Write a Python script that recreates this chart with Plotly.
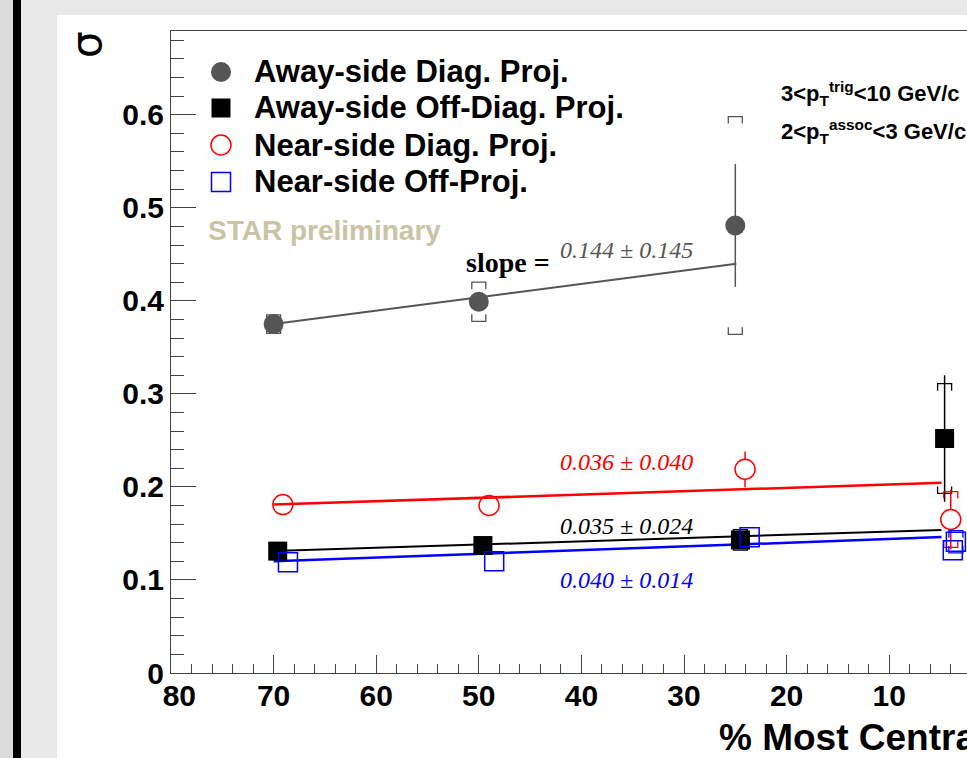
import plotly.graph_objects as go

# ---------------- data ----------------
# Away-side Diag. Proj. (grey filled circles)
away_diag_x = [70.0, 50.0, 25.0]
away_diag_y = [0.375, 0.399, 0.481]
away_diag_stat = [0.004, 0.006, 0.066]
away_diag_sys = [0.010, 0.021, 0.117]

# Away-side Off-Diag. Proj. (black filled squares)
away_off_x = [69.6, 49.6, 24.5, 4.6]
away_off_y = [0.131, 0.137, 0.143, 0.252]
away_off_stat = [0.004, 0.004, 0.005, 0.068]
away_off_sys = [0.004, 0.004, 0.011, 0.059]

# Near-side Diag. Proj. (red open circles)
near_diag_x = [69.1, 49.0, 24.05, 4.0]
near_diag_y = [0.181, 0.180, 0.219, 0.165]
near_diag_stat = [0.004, 0.004, 0.019, 0.032]
near_diag_sys = [0.0, 0.0, 0.0, 0.030]

# Near-side Off-Proj. (blue open squares)
near_off_x = [68.6, 48.5, 23.6, 3.5, 3.8]
near_off_y = [0.119, 0.120, 0.146, 0.141, 0.132]
near_off_stat = [0.003, 0.003, 0.004, 0.006, 0.006]
near_off_sys = [0.0, 0.0, 0.0, 0.012, 0.0]

# Linear fits: value at 70 %, slope (per 100 %), fit range
fit_away_diag = dict(y70=0.375, slope=0.144, err=0.145, xmin=24.9)
fit_away_off = dict(y70=0.131, slope=0.035, err=0.024, xmin=4.9)
fit_near_diag = dict(y70=0.181, slope=0.036, err=0.040, xmin=4.9)
fit_near_off = dict(y70=0.120, slope=0.040, err=0.014, xmin=4.9)

legend_labels = ["Away-side Diag. Proj.", "Away-side Off-Diag. Proj.",
                 "Near-side Diag. Proj.", "Near-side Off-Proj."]

x_tick_vals = [80, 70, 60, 50, 40, 30, 20, 10]
x_tick_text = ["\u200780", "70", "60", "50", "40", "30", "20", "10"]

# ---------------- geometry ----------------
W, H = 967, 758
L, R, T, B = 171, 0, 31, 85
PX_PER_X = 10.26
X_MAX = 80.0
X_MIN = X_MAX - (W - L - R) / PX_PER_X
Y_MAX = 0.69
PX_PER_Y = (H - T - B) / Y_MAX
MARK = 20


def pxx(p):
    return (p - L) / (W - L - R)


def pxy(p):
    return (H - B - p) / (H - T - B)


fig = go.Figure()

GREY = "#555555"
RED = "#ff0000"
BLUE = "#0000ff"
BLACK = "#000000"


def fit_line(f, color, width):
    xs = [70.0, f["xmin"]]
    ys = [f["y70"] + f["slope"] * (70.0 - x) / 100.0 for x in xs]
    fig.add_trace(go.Scatter(x=xs, y=ys, mode="lines", showlegend=False,
                             line=dict(color=color, width=width), hoverinfo="skip"))


def err_segments(xs, ys, errs, color, gap_px):
    gx, gy = [], []
    gap = gap_px / PX_PER_Y
    for x, y, e in zip(xs, ys, errs):
        if e > gap:
            gx += [x, x, None, x, x, None]
            gy += [y + gap, y + e, None, y - gap, y - e, None]
    if gx:
        fig.add_trace(go.Scatter(x=gx, y=gy, mode="lines", showlegend=False,
                                 line=dict(color=color, width=1.5), hoverinfo="skip"))


def sys_brackets(xs, ys, syss, color):
    hw = 7.0 / PX_PER_X
    leg = 7.0 / PX_PER_Y
    bx, by = [], []
    for x, y, s in zip(xs, ys, syss):
        if s <= 0:
            continue
        top, bot = y + s, y - s
        bx += [x - hw, x - hw, x + hw, x + hw, None]
        by += [top - leg, top, top, top - leg, None]
        bx += [x - hw, x - hw, x + hw, x + hw, None]
        by += [bot + leg, bot, bot, bot + leg, None]
    if bx:
        fig.add_trace(go.Scatter(x=bx, y=by, mode="lines", showlegend=False,
                                 line=dict(color=color, width=1.3), hoverinfo="skip"))


# fits
fit_line(fit_away_diag, GREY, 2)
fit_line(fit_near_diag, RED, 2.5)
fit_line(fit_away_off, BLACK, 2)
fit_line(fit_near_off, BLUE, 2.5)

# error bars and systematic brackets
for xs, ys, st, sy, col, gap in [
    (away_diag_x, away_diag_y, away_diag_stat, away_diag_sys, GREY, 0),
    (away_off_x, away_off_y, away_off_stat, away_off_sys, BLACK, 0),
    (near_diag_x, near_diag_y, near_diag_stat, near_diag_sys, RED, MARK / 2),
    (near_off_x, near_off_y, near_off_stat, near_off_sys, BLUE, MARK / 2),
]:
    err_segments(xs, ys, st, col, gap)
    sys_brackets(xs, ys, sy, col)

# markers
fig.add_trace(go.Scatter(x=away_diag_x, y=away_diag_y, mode="markers", name=legend_labels[0],
                         marker=dict(symbol="circle", size=MARK, color=GREY, line=dict(width=0))))
fig.add_trace(go.Scatter(x=away_off_x, y=away_off_y, mode="markers", name=legend_labels[1],
                         marker=dict(symbol="square", size=MARK - 1, color=BLACK, line=dict(width=0))))
fig.add_trace(go.Scatter(x=near_diag_x, y=near_diag_y, mode="markers", name=legend_labels[2],
                         marker=dict(symbol="circle-open", size=MARK, color=RED, line=dict(width=1.5))))
fig.add_trace(go.Scatter(x=near_off_x, y=near_off_y, mode="markers", name=legend_labels[3],
                         marker=dict(symbol="square-open", size=MARK - 1, color=BLUE, line=dict(width=1.5))))

# ---------------- background shapes ----------------
shapes = [
    dict(type="rect", xref="paper", yref="paper", x0=pxx(57), x1=pxx(W + 5), y0=pxy(15), y1=pxy(H + 5),
         fillcolor="white", line=dict(width=0), layer="below"),
    dict(type="rect", xref="paper", yref="paper", x0=pxx(-5), x1=pxx(13), y0=pxy(-5), y1=pxy(H + 5),
         fillcolor="#dcdcdc", line=dict(width=0), layer="below"),
    dict(type="rect", xref="paper", yref="paper", x0=pxx(13), x1=pxx(21), y0=pxy(-5), y1=pxy(H + 5),
         fillcolor="black", line=dict(width=0), layer="below"),
]

# manual legend markers
leg_rows = [72, 108, 145, 182]
leg_x = 221
r = 10
shapes.append(dict(type="circle", xref="paper", yref="paper", xsizemode="pixel", ysizemode="pixel",
                   xanchor=pxx(leg_x), yanchor=pxy(leg_rows[0]), x0=-r, x1=r, y0=-r, y1=r,
                   fillcolor=GREY, line=dict(width=0)))
shapes.append(dict(type="rect", xref="paper", yref="paper", xsizemode="pixel", ysizemode="pixel",
                   xanchor=pxx(leg_x), yanchor=pxy(leg_rows[1]), x0=-9.5, x1=9.5, y0=-9.5, y1=9.5,
                   fillcolor=BLACK, line=dict(width=0)))
shapes.append(dict(type="circle", xref="paper", yref="paper", xsizemode="pixel", ysizemode="pixel",
                   xanchor=pxx(leg_x), yanchor=pxy(leg_rows[2]), x0=-r, x1=r, y0=-r, y1=r,
                   line=dict(color=RED, width=1.5)))
shapes.append(dict(type="rect", xref="paper", yref="paper", xsizemode="pixel", ysizemode="pixel",
                   xanchor=pxx(leg_x), yanchor=pxy(leg_rows[3]), x0=-9.5, x1=9.5, y0=-9.5, y1=9.5,
                   line=dict(color=BLUE, width=1.5)))

SANS = "Liberation Sans, Arial, sans-serif"
SERIF = "Liberation Serif, Times New Roman, serif"

annotations = []
for lab, yy in zip(legend_labels, leg_rows):
    annotations.append(dict(text=lab, xref="paper", yref="paper", x=pxx(252), y=pxy(yy),
                            xanchor="left", yanchor="middle", showarrow=False,
                            font=dict(family=SANS, size=31, color="black", weight="bold")))

annotations += [
    dict(text="STAR preliminary", xref="paper", yref="paper", x=pxx(206), y=pxy(230),
         xanchor="left", yanchor="middle", showarrow=False,
         font=dict(family=SANS, size=28, color="#c9c4a4", weight="bold")),
    dict(text="slope =", xref="paper", yref="paper", x=pxx(464), y=pxy(262),
         xanchor="left", yanchor="middle", showarrow=False,
         font=dict(family=SERIF, size=28, color="black", weight="bold")),
    dict(text="<i>%.3f \u00b1 %.3f</i>" % (fit_away_diag["slope"], fit_away_diag["err"]),
         xref="paper", yref="paper", x=pxx(558), y=pxy(250), xanchor="left", yanchor="middle",
         showarrow=False, font=dict(family=SERIF, size=24, color=GREY)),
    dict(text="<i>%.3f \u00b1 %.3f</i>" % (fit_near_diag["slope"], fit_near_diag["err"]),
         xref="paper", yref="paper", x=pxx(558), y=pxy(462), xanchor="left", yanchor="middle",
         showarrow=False, font=dict(family=SERIF, size=24, color=RED)),
    dict(text="<i>%.3f \u00b1 %.3f</i>" % (fit_away_off["slope"], fit_away_off["err"]),
         xref="paper", yref="paper", x=pxx(558), y=pxy(526), xanchor="left", yanchor="middle",
         showarrow=False, font=dict(family=SERIF, size=24, color=BLACK)),
    dict(text="<i>%.3f \u00b1 %.3f</i>" % (fit_near_off["slope"], fit_near_off["err"]),
         xref="paper", yref="paper", x=pxx(558), y=pxy(580), xanchor="left", yanchor="middle",
         showarrow=False, font=dict(family=SERIF, size=24, color=BLUE)),
    dict(text="3&lt;p<sub>T</sub><sup>trig</sup>&lt;10 GeV/c", xref="paper", yref="paper",
         x=pxx(779), y=pxy(94), xanchor="left", yanchor="middle", showarrow=False,
         font=dict(family=SANS, size=22, color="black", weight="bold")),
    dict(text="2&lt;p<sub>T</sub><sup>assoc</sup>&lt;3 GeV/c", xref="paper", yref="paper",
         x=pxx(779), y=pxy(131), xanchor="left", yanchor="middle", showarrow=False,
         font=dict(family=SANS, size=22, color="black", weight="bold")),
    dict(text="\u03c3", xref="paper", yref="paper", x=pxx(86), y=pxy(45), textangle=-90,
         xanchor="center", yanchor="middle", showarrow=False,
         font=dict(family="DejaVu Sans, sans-serif", size=42, color="black")),
    dict(text="% Most Centrality", xref="paper", yref="paper", x=pxx(717), y=pxy(737),
         xanchor="left", yanchor="middle", showarrow=False,
         font=dict(family=SANS, size=37, color="black", weight="bold")),
]

AX = "#444444"
fig.update_layout(
    width=W, height=H,
    margin=dict(l=L, r=R, t=T, b=B, pad=0),
    paper_bgcolor="#e8e8e8",
    plot_bgcolor="white",
    showlegend=False,
    shapes=shapes,
    annotations=annotations,
    xaxis=dict(range=[X_MAX, X_MIN], showgrid=False, zeroline=False,
               showline=True, linecolor=AX, linewidth=1, mirror=True,
               ticks="inside", ticklen=18, tickwidth=1, tickcolor=AX,
               tickmode="array", tickvals=x_tick_vals, ticktext=x_tick_text,
               minor=dict(ticks="inside", ticklen=9, dtick=2, tick0=0, tickcolor=AX, showgrid=False),
               tickfont=dict(family=SANS, size=30, color="black", weight="bold"),
               ticklabelstandoff=-4),
    yaxis=dict(range=[0, Y_MAX], showgrid=False, zeroline=False,
               showline=True, linecolor=AX, linewidth=1,
               ticks="inside", ticklen=25, tickwidth=1, tickcolor=AX,
               tick0=0, dtick=0.1,
               minor=dict(ticks="inside", ticklen=13, dtick=0.02, tick0=0, tickcolor=AX, showgrid=False),
               tickfont=dict(family=SANS, size=30, color="black", weight="bold"),
               ticklabelstandoff=0),
)

fig.write_html("out.html")
